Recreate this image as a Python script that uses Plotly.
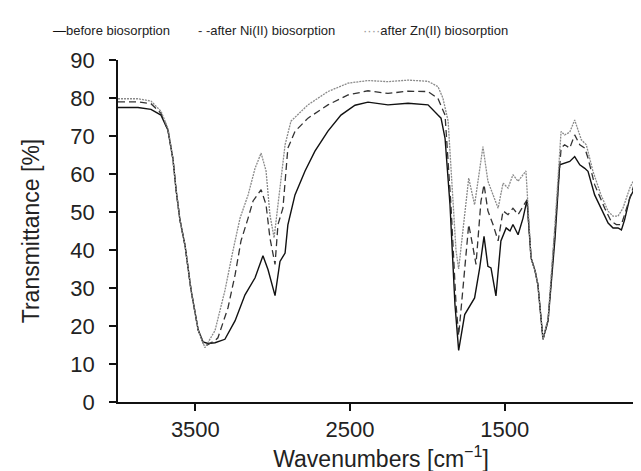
import plotly.graph_objects as go

# ---- data ----
wn_before = [4000, 3871, 3787, 3722, 3677, 3645, 3625, 3600, 3566, 3528, 3482, 3450, 3418, 3373,
             3309, 3243, 3179, 3114, 3063, 3030, 2985, 2953, 2920, 2902, 2856, 2791, 2727, 2643,
             2559, 2468, 2384, 2255, 2125, 1996, 1932, 1912, 1886, 1854, 1822, 1798, 1759, 1718,
             1695, 1662, 1634, 1609, 1589, 1557, 1525, 1491, 1466, 1447, 1414, 1382, 1356, 1330,
             1304, 1286, 1253, 1220, 1175, 1145, 1113, 1080, 1048, 1015, 983, 962, 919, 877, 832, 800,
             768, 746, 725, 692, 660, 628]
t_before = [77.5, 77.5, 77.0, 75.5, 71.5, 64, 56, 48, 41, 29.5, 19, 15.8, 15.4, 15.6,
            16.5, 21.4, 28.2, 32.7, 38.5, 34.8, 28, 37, 39.2, 46.6, 54.5, 60.8, 66, 71.3,
            75.5, 78.1, 78.9, 78.2, 78.6, 78.2, 75.5, 74.7, 69.4, 51.9, 25.7, 13.6, 23, 25.7,
            27.4, 35.3, 43.6, 35.7, 35.3, 27.9, 42.4, 45.8, 45, 46.7, 44, 48.4, 53.2, 37.9,
            34.5, 30.9, 16.5, 21.4, 43.2, 62.4, 62.9, 63.3, 64.6, 62.4, 61.5, 60.7, 54.5, 51, 47.1, 45.8,
            45.8, 45.3, 48, 53.7, 56.3, 59.8]

wn_ni = [4000, 3871, 3787, 3722, 3677, 3645, 3625, 3600, 3566, 3528, 3482, 3450, 3431, 3373,
         3354, 3289, 3243, 3205, 3159, 3127, 3075, 3043, 3018, 2985, 2966, 2934, 2902, 2856,
         2772, 2643, 2513, 2384, 2255, 2125, 1996, 1932, 1886, 1848, 1815, 1798, 1770, 1733,
         1705, 1686, 1654, 1634, 1609, 1576, 1543, 1511, 1479, 1447, 1414, 1356, 1330, 1304,
         1286, 1253, 1220, 1175, 1136, 1113, 1080, 1048, 1015, 983, 962, 919, 854, 813, 779, 746,
         714, 671, 630, 628]
t_ni = [79, 79, 78.5, 76, 71.5, 64, 56, 48, 41, 29.5, 19, 15.5, 14.8, 16.2,
        16.9, 24.8, 33.5, 42.4, 48.4, 52.9, 55.9, 51.9, 43.2, 36.2, 46.7, 51, 66.8, 71.2,
        74.7, 78.2, 80.8, 81.9, 81.2, 81.8, 81.7, 79.9, 75.5, 51.9, 25.7, 17.5, 30, 46.7,
        40.6, 36.2, 52.8, 57.2, 50.3, 46.7, 42.4, 50.3, 49.3, 51, 49.3, 53.2, 37.9, 34.5,
        30.9, 16.5, 21.4, 45, 66.8, 67.7, 66.8, 70.3, 67.7, 66.8, 64.2, 57.2, 51, 47.6, 46.7, 46.7,
        51, 56.3, 61.5, 71.6]

wn_zn = [4000, 3871, 3787, 3722, 3677, 3645, 3625, 3600, 3566, 3528, 3482, 3438, 3373, 3309,
         3257, 3211, 3159, 3114, 3075, 3043, 3018, 2991, 2966, 2920, 2882, 2772, 2643, 2513,
         2384, 2255, 2125, 1996, 1932, 1900, 1866, 1834, 1815, 1798, 1733, 1695, 1641, 1609,
         1543, 1511, 1479, 1447, 1414, 1363, 1337, 1330, 1304, 1286, 1253, 1220, 1175, 1136,
         1113, 1080, 1048, 1027, 1005, 973, 930, 878, 832, 800, 768, 736, 692, 639, 629]
t_zn = [79.8, 79.8, 79.2, 76.5, 72, 64, 56, 48, 41, 29.5, 19, 14.3, 18.8, 29.3,
        39.8, 48.4, 54.5, 61.5, 65.5, 60.8, 49.3, 43.2, 51.9, 67.7, 73.9, 78.2, 81.7, 83.9,
        84.6, 84.3, 84.7, 84.4, 83, 80, 73.9, 51.9, 39.8, 35, 58.9, 51.9, 67.2, 58.1,
        51, 57.6, 56.3, 59.8, 58.1, 60.8, 45, 37.9, 34.5, 30.9, 16.5, 22, 47, 71.2,
        70.3, 71, 74.2, 71.6, 69, 67.7, 60.7, 54.5, 50.2, 48.9, 48.9, 51, 56.3, 60.7, 62]

x_ticks = [3500, 2500, 1500]
y_ticks = [0, 10, 20, 30, 40, 50, 60, 70, 80, 90]
legend_labels = ["before biosorption", "after Ni(II) biosorption", "after Zn(II) biosorption"]

FONT = "Liberation Sans, Arial, sans-serif"

fig = go.Figure()
fig.add_trace(go.Scatter(x=wn_before, y=t_before, mode="lines", name=legend_labels[0],
                         line=dict(color="#111111", width=1.4)))
fig.add_trace(go.Scatter(x=wn_ni, y=t_ni, mode="lines", name=legend_labels[1],
                         line=dict(color="#333333", width=1.3, dash="7px,4px")))
fig.add_trace(go.Scatter(x=wn_zn, y=t_zn, mode="lines", name=legend_labels[2],
                         line=dict(color="#8a8a8a", width=1.3, dash="2px,1px")))

leg_x = [-0.127, 0.148, 0.462]
leg_sym = ['<span style="color:#111">—</span>',
           '<span style="color:#333">- -</span>',
           '<span style="color:#999">····</span>']
for lx, sym, lab in zip(leg_x, leg_sym, legend_labels):
    fig.add_annotation(x=lx, y=1.085, xref="paper", yref="paper", xanchor="left", yanchor="middle",
                       text=sym + lab, showarrow=False, font=dict(family=FONT, size=13, color="#222"))

fig.update_layout(
    width=641, height=471,
    margin=dict(l=110, r=5, t=52, b=77),
    paper_bgcolor="white", plot_bgcolor="white",
    showlegend=False,
    font=dict(family=FONT, color="#222"),
)
fig.update_xaxes(range=[4000, 600], tickvals=x_ticks, ticks="outside", ticklen=7, tickwidth=1.5,
                 tickcolor="#111", showline=True, linecolor="#111", linewidth=1.5, showgrid=False,
                 zeroline=False, tickfont=dict(size=22, family=FONT, color="#222"),
                 title=dict(text="Wavenumbers [cm<sup>−1</sup>]", font=dict(size=23, family=FONT, color="#222"),
                            standoff=6))
fig.update_yaxes(range=[0, 90], tickvals=y_ticks, ticks="outside", ticklen=7, tickwidth=1.5,
                 tickcolor="#111", showline=True, linecolor="#111", linewidth=1.5, showgrid=False,
                 zeroline=False, tickfont=dict(size=22, family=FONT, color="#222"),
                 ticklabelstandoff=10,
                 title=dict(text="Transmittance [%]", font=dict(size=23, family=FONT, color="#222"),
                            standoff=24))

fig.write_html("out.html")
